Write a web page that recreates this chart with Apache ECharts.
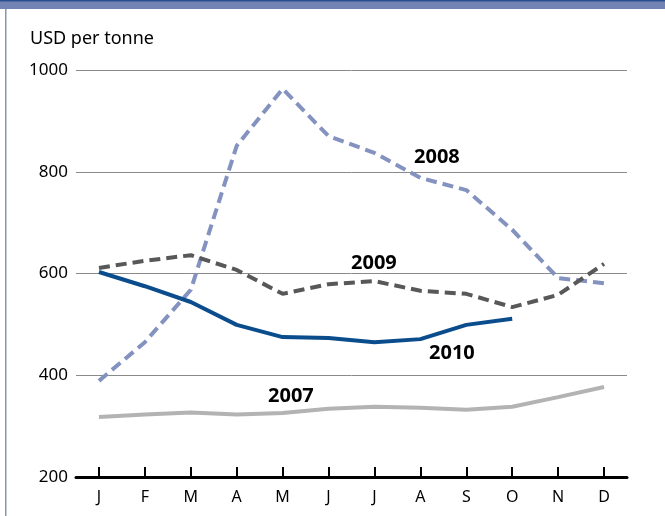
<!DOCTYPE html>
<html>
<head>
<meta charset="utf-8">
<script src="https://cdn.jsdelivr.net/npm/echarts@6/dist/echarts.min.js"></script>
<style>
  html, body { margin: 0; padding: 0; background: #fff; }
  #chart { width: 665px; height: 516px; }
</style>
</head>
<body>
<div id="chart"></div>
<script>
var months = ['J', 'F', 'M', 'A', 'M', 'J', 'J', 'A', 'S', 'O', 'N', 'D']
var y2007 = [318, 323, 327, 323, 326, 334, 338, 336, 332, 338, 357, 377]
var y2008 = [389, 465, 568, 851, 963, 870, 837, 788, 764, 686, 591, 581]
var y2009 = [611, 625, 636, 607, 560, 579, 585, 566, 560, 534, 558, 619]
var y2010 = [603, 575, 544, 499, 475, 473, 465, 471, 499, 511]
var yTicks = [200, 400, 600, 800, 1000]

var font = '"Noto Sans", "Open Sans", sans-serif'

// 年份标签
function yearLabel (text, x, y) {
  return {
    type: 'text',
    left: x,
    top: y,
    z: 100,
    style: { text: text, fill: '#000', font: 'bold 20px ' + font }
  }
}

var option = {
  animation: false,
  grid: { left: 76, right: 38, top: 70, bottom: 39 },
  xAxis: {
    type: 'category',
    data: months,
    z: 10,
    axisLine: { lineStyle: { color: '#000', width: 3 } },
    axisTick: { show: true, alignWithLabel: true, inside: true, length: 10, lineStyle: { color: '#000', width: 2 } },
    axisLabel: { color: '#000', fontSize: 16, fontFamily: font, margin: 12 }
  },
  yAxis: {
    type: 'value',
    min: 200,
    max: 1000,
    interval: 200,
    axisLine: { show: false },
    axisTick: { show: false },
    axisLabel: {
      color: '#000', fontSize: 17, fontFamily: font, margin: 8,
      formatter: function (v) { return yTicks.indexOf(v) >= 0 ? v : '' }
    },
    splitLine: { lineStyle: { color: '#8a8a8a', width: 1 } }
  },
  series: [
    {
      name: '2007', type: 'line', data: y2007, symbol: 'none',
      lineStyle: { color: '#b3b3b3', width: 4 }
    },
    {
      name: '2008', type: 'line', data: y2008, symbol: 'none',
      lineStyle: { color: '#8492c0', width: 4, type: [11, 6] }
    },
    {
      name: '2009', type: 'line', data: y2009, symbol: 'none',
      lineStyle: { color: '#58585a', width: 4, type: [11, 6] }
    },
    {
      name: '2010', type: 'line', data: y2010, symbol: 'none',
      lineStyle: { color: '#0b4d8c', width: 4 }
    }
  ],
  graphic: [
    { type: 'rect', shape: { x: 0, y: 0, width: 665, height: 9 }, style: { fill: '#7383b3' } },
    { type: 'rect', shape: { x: 0, y: 0, width: 665, height: 1.5 }, style: { fill: '#2a4f8e' } },
    { type: 'rect', shape: { x: 5, y: 9, width: 1.5, height: 507 }, style: { fill: '#8098b4' } },
    {
      type: 'text', left: 30, top: 30,
      style: { text: 'USD per tonne', fill: '#000', font: '18px ' + font }
    },
    yearLabel('2008', 414, 147),
    yearLabel('2009', 351, 253),
    yearLabel('2010', 429, 343),
    yearLabel('2007', 268, 386)
  ]
}

var myChart = echarts.init(document.getElementById('chart'))
myChart.setOption(option)
</script>
</body>
</html>
